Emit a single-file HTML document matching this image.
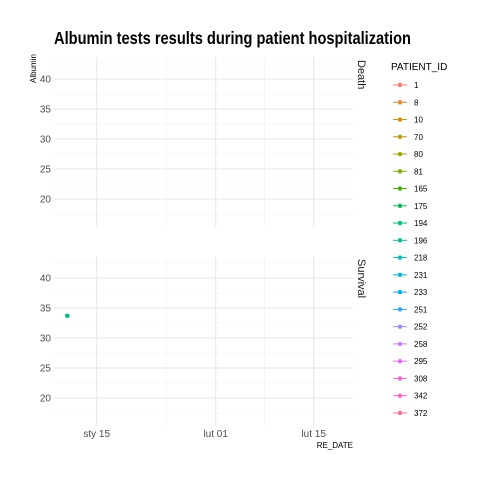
<!DOCTYPE html>
<html><head><meta charset="utf-8"><style>
body{margin:0;background:#fff;font-family:"Liberation Sans",sans-serif}
svg text{font-family:"Liberation Sans",sans-serif}
</style></head><body>
<svg id="c" width="480" height="480" xmlns="http://www.w3.org/2000/svg">
<rect width="480" height="480" fill="#fff"/>
<text x="54" y="44" font-size="17.5" font-weight="bold" fill="#000" textLength="357" lengthAdjust="spacingAndGlyphs">Albumin tests results during patient hospitalization</text>
</svg>
<script>
const patients=["1","8","10","70","80","81","165","175","194","196","218","231","233","251","252","258","295","308","342","372"];
const facets=["Death","Survival"];
const yTicks=[20,25,30,35,40];
const xTickLabels=["sty 15","lut 01","lut 15"];
const xTickDays=[14,31,45];
const pointFacet=["Survival"];
const pointPatient=["194"];
const pointDay=[9.8];
const pointAlb=[33.7];

const svg=document.getElementById('c');
const NS="http://www.w3.org/2000/svg";
function mk(t,a,p){const e=document.createElementNS(NS,t);for(const k in a)e.setAttribute(k,a[k]);(p||svg).appendChild(e);return e;}
function hue(i,n){const h=(15+360*i/n)%360*Math.PI/180,L=65,C=100;
 const u=C*Math.cos(h),v=C*Math.sin(h);const Y=Math.pow((L+16)/116,3);
 const un=0.1978398,vn=0.4683363;const up=u/(13*L)+un,vp=v/(13*L)+vn;
 const X=9*Y*up/(4*vp),Z=Y*(12-3*up-20*vp)/(4*vp);
 let r=3.2404542*X-1.5371385*Y-0.4985314*Z,g=-0.9692660*X+1.8760108*Y+0.0415560*Z,b=0.0556434*X-0.2040259*Y+1.0572252*Z;
 const f=x=>{x=x<=0.0031308?12.92*x:1.055*Math.pow(x,1/2.4)-0.055;return Math.round(Math.max(0,Math.min(1,x))*255);};
 return `rgb(${f(r)},${f(g)},${f(b)})`;}
const px0=54,px1=353;
const xs=d=>96.7+(d-14)*7.0;
const panels=[{top:57,y40:79},{top:256,y40:278}];
facets.forEach((f,fi)=>{
 const P=panels[fi];const ys=v=>P.y40+(40-v)*6;const bot=P.top+170;
 const g=mk('g',{});
 
 
 for(let v=17.5;v<=42.5;v+=5){mk('line',{x1:px0,x2:px1,y1:ys(v),y2:ys(v),stroke:'#f0f0f0','stroke-width':0.6},g);}
 [24,38].forEach(d=>mk('line',{x1:xs(d),x2:xs(d),y1:P.top,y2:bot,stroke:'#f0f0f0','stroke-width':0.6},g));
 yTicks.forEach(v=>{mk('line',{x1:px0,x2:px1,y1:ys(v),y2:ys(v),stroke:'#e6e6e6','stroke-width':1},g);
  const t=mk('text',{x:51,y:ys(v)+3.5,'font-size':10,'text-anchor':'end',fill:'#4d4d4d'},g);t.textContent=v;
  });
 xTickDays.forEach((d,i)=>{mk('line',{x1:xs(d),x2:xs(d),y1:P.top,y2:bot,stroke:'#e6e6e6','stroke-width':1},g);
  if(fi==1){const t=mk('text',{x:xs(d),y:437,'font-size':10,'text-anchor':'middle',fill:'#4d4d4d'},g);t.textContent=xTickLabels[i];
  }});
 const s=mk('text',{transform:`translate(358,${P.top+3}) rotate(90)`,'font-size':11,fill:'#1a1a1a'},g);s.textContent=f;
 
 pointFacet.forEach((pf,i)=>{if(pf!==f)return;const c=mk('circle',{cx:xs(pointDay[i]),cy:ys(pointAlb[i]),r:2.3,fill:hue(patients.indexOf(pointPatient[i]),patients.length)},g);
  });
});
let t=mk('text',{transform:'translate(36,83) rotate(-90)','font-size':8,fill:'#000'});t.textContent='Albumin';

t=mk('text',{x:353,y:448,'font-size':8,'text-anchor':'end',fill:'#000'});t.textContent='RE_DATE';

t=mk('text',{x:391,y:70,'font-size':10,fill:'#000'});t.textContent='PATIENT_ID';

patients.forEach((p,i)=>{const y=85+i*17.26,col=hue(i,patients.length);
 const g=mk('g',{});
 
 
 mk('line',{x1:393,x2:407,y1:y,y2:y,stroke:col,'stroke-width':1},g);
 mk('circle',{cx:400,cy:y,r:2.2,fill:col},g);
 const tt=mk('text',{x:414,y:y+3,'font-size':8,fill:'#000'},g);tt.textContent=p;});
</script>
</body></html>
